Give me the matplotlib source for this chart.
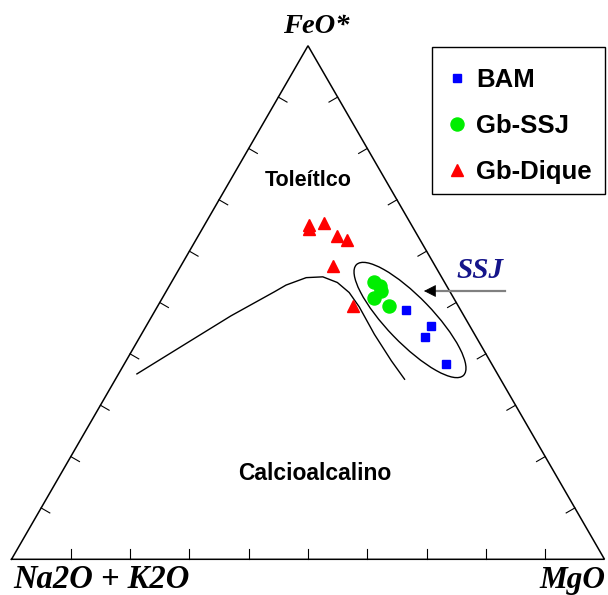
import numpy as np
import matplotlib
matplotlib.use("Agg")
import matplotlib.pyplot as plt
from matplotlib.patches import Ellipse, Rectangle

# ---------------- data (ternary %: Na2O+K2O, FeO*, MgO) ----------------
bam_A = [9.3, 6.5, 8.6, 7.8]
bam_F = [48.5, 45.4, 43.3, 38.0]
bam_M = [42.2, 48.0, 48.2, 54.2]

ssj_A = [11.8, 11.3, 11.5, 13.5, 11.7]
ssj_F = [54.0, 53.2, 52.3, 50.8, 49.2]
ssj_M = [34.2, 35.4, 36.2, 35.7, 39.0]

dq_A = [17.3, 17.7, 14.5, 13.7, 12.3, 17.2, 17.8]
dq_F = [65.0, 64.3, 65.4, 62.9, 62.2, 57.1, 49.3]
dq_M = [17.7, 18.0, 20.0, 23.4, 25.5, 25.6, 32.8]

# Irvine & Baragar boundary (tholeiitic / calc-alkaline)
cur_A = [60.8, 49.2, 39.3, 29.6, 27.0, 22.9, 20.0, 18.1, 17.1, 16.8, 16.9, 16.6, 16.2]
cur_F = [36.1, 42.2, 47.4, 52.1, 53.4, 54.9, 55.0, 53.9, 52.0, 49.2, 43.8, 38.6, 35.1]
cur_M = [3.1, 8.6, 13.3, 18.3, 19.6, 22.3, 25.0, 28.0, 31.0, 34.1, 39.3, 44.7, 48.8]

series_labels = ["BAM", "Gb-SSJ", "Gb-Dique"]
apex_labels = ["Na2O + K2O", "FeO*", "MgO"]
field_labels = ["Toleítlco", "Calcioalcalino"]
tick_fracs = [0.1, 0.2, 0.3, 0.4, 0.5, 0.6, 0.7, 0.8, 0.9]


def tern(A, F, M):
    A, F, M = (np.asarray(v, float) for v in (A, F, M))
    s = A + F + M
    f = F / s
    m = M / s
    return m + f / 2.0, f * np.sqrt(3) / 2.0


# ---------------- figure geometry ----------------
W, H = 608, 595
X0, Y0, SIDE = 11.5, 559.3, 593.0


def px(xp, yp):
    return (xp - X0) / SIDE, (Y0 - yp) / SIDE


fig = plt.figure(figsize=(W / 100, H / 100), dpi=100)
ax = fig.add_axes([0, 0, 1, 1])
ax.set_xlim(-X0 / SIDE, (W - X0) / SIDE)
ax.set_ylim((Y0 - H) / SIDE, Y0 / SIDE)
ax.axis("off")

h = np.sqrt(3) / 2
# triangle frame
ax.plot([0, 1, 0.5, 0], [0, 0, h, 0], color="black", lw=1.1, solid_joinstyle="miter", zorder=2)

# ticks
tl = 10 / SIDE
for t in tick_fracs:
    ax.plot([t, t], [0, tl], color="black", lw=0.8)
    lx, ly = t / 2, t * h
    ax.plot([lx, lx + tl * np.cos(np.radians(-30))], [ly, ly + tl * np.sin(np.radians(-30))],
            color="black", lw=0.8)
    rx, ry = 1 - t / 2, t * h
    ax.plot([rx, rx - tl * np.cos(np.radians(-30))], [ry, ry + tl * np.sin(np.radians(-30))],
            color="black", lw=0.8)

# boundary curve
cx, cy = tern(cur_A, cur_F, cur_M)
ax.plot(cx, cy, color="black", lw=1.0, solid_joinstyle="round")

# SSJ ellipse
ecx, ecy = px(410, 320)
ax.add_patch(Ellipse((ecx, ecy), width=154 / SIDE, height=46 / SIDE, angle=-46,
                     fill=False, edgecolor="black", lw=1.0))

# data
bx, by = tern(bam_A, bam_F, bam_M)
gx, gy = tern(ssj_A, ssj_F, ssj_M)
rx_, ry_ = tern(dq_A, dq_F, dq_M)
h1, = ax.plot(bx, by, ls="none", marker="s", ms=6, color="#0000ff", mec="#0000ff", label=series_labels[0], zorder=4)
h2, = ax.plot(gx, gy, ls="none", marker="o", ms=9.4, color="#00ee00", mec="#00ee00", label=series_labels[1], zorder=4)
h3, = ax.plot(rx_, ry_, ls="none", marker="^", ms=9, color="#ff0000", mec="#ff0000", label=series_labels[2], zorder=4)

# arrow SSJ
a0 = px(505, 291)
a1 = px(432, 291)
a2 = px(424, 291)
ax.plot([a0[0], a1[0]], [a0[1], a1[1]], color="#808080", lw=1.6)
ax.annotate("", xy=a2, xytext=a1,
            arrowprops=dict(arrowstyle="-|>,head_length=0.55,head_width=0.28", color="black",
                            lw=0.5, shrinkA=0, shrinkB=0, mutation_scale=14))
ax.text(*px(480, 278), "SSJ", fontfamily="Liberation Serif", fontweight="bold", fontstyle="italic",
        fontsize=21, color="#14148a", ha="center", va="baseline")

# apex labels
serif = dict(fontfamily="Liberation Serif", fontweight="bold", fontstyle="italic", color="black")
ax.text(*px(101, 588), apex_labels[0], fontsize=23.5, ha="center", va="baseline", **serif)
ax.text(*px(316, 33), apex_labels[1], fontsize=20.5, ha="center", va="baseline", **serif)
ax.text(*px(572, 588), apex_labels[2], fontsize=22.5, ha="center", va="baseline", **serif)

# field labels
sans = dict(fontfamily="Liberation Sans", fontweight="bold", color="black")
ax.text(*px(308, 186), field_labels[0], fontsize=15.5, ha="center", va="baseline", **sans)
ax.text(*px(315, 480), field_labels[1], fontsize=16.5, ha="center", va="baseline", **sans)

# legend box
fig.patches.append(Rectangle((432 / W, 1 - 194 / H), (605 - 432) / W, (194 - 47) / H,
                             transform=fig.transFigure, fill=False, edgecolor="black", lw=1.0))
leg = ax.legend(handles=[h1, h2, h3], loc="upper left",
                bbox_to_anchor=(446 / W, 1 - 68 / H), bbox_transform=fig.transFigure,
                borderaxespad=0, frameon=False, borderpad=0,
                handlelength=0.85, handletextpad=0.33, labelspacing=0.85, numpoints=1,
                prop=dict(family="Liberation Sans", weight="bold", size=18.5))

fig.savefig("out.png", dpi=100)
